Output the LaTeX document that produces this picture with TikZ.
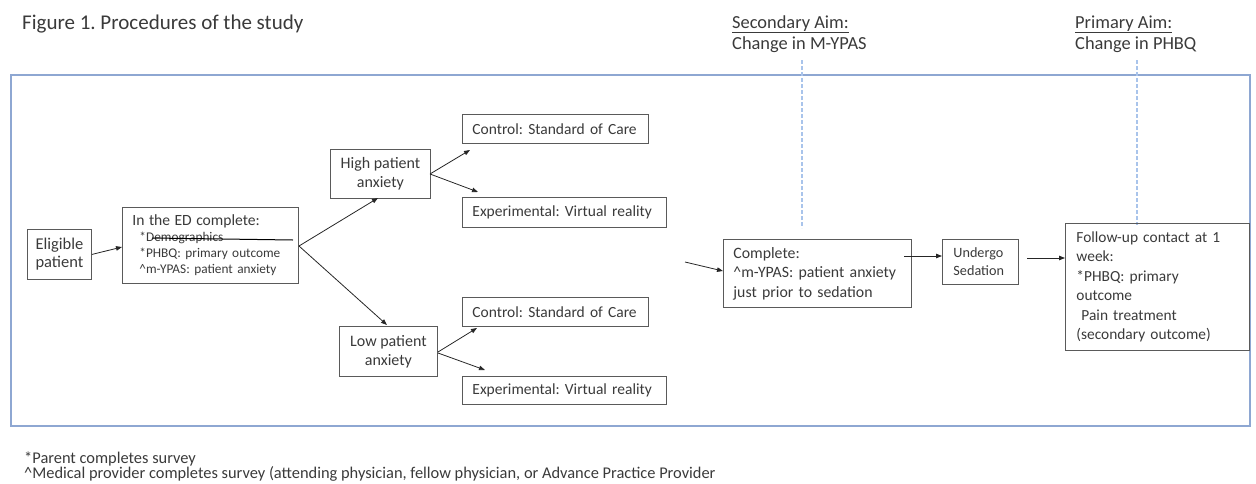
\documentclass[tikz,border=0pt]{standalone}
\usepackage{fontspec}
\setmainfont{Carlito}
\usetikzlibrary{arrows.meta}
\definecolor{framecol}{HTML}{8EA7D2}
\definecolor{dashcol}{HTML}{A9C4EB}
\definecolor{txt}{HTML}{3A3A3A}
\definecolor{boxcol}{HTML}{5A5A5A}
\frenchspacing
\begin{document}
\begin{tikzpicture}[x=1pt,y=-1pt,
  box/.style={draw=boxcol, line width=0.9pt, text=txt, inner sep=0pt, anchor=north west},
  lbox/.style={box, align=left, inner xsep=10pt},
  conn/.style={draw=black!85, line width=0.8pt, -{Triangle[length=6pt,width=4.5pt]}},
  aimline/.style={draw=dashcol, line width=1.2pt, dash pattern=on 4pt off 2pt},
  plain/.style={text=txt, inner sep=0pt, anchor=base west}]
\useasboundingbox (0,0) rectangle (1256,483);
% frame
\draw[framecol, line width=1.6pt] (11,75) rectangle (1250,426);
% title and aims
\node[plain, font=\fontsize{21}{24}\selectfont] (title) at (22,29) {Figure 1. Procedures of the study};
\node[plain, font=\fontsize{18.4}{21}\selectfont] (sec1) at (732,28) {\underline{Secondary Aim:}};
\node[plain, font=\fontsize{18.4}{21}\selectfont] (sec2) at (732,49) {Change in M-YPAS};
\node[plain, font=\fontsize{18.4}{21}\selectfont] (pri1) at (1075,28) {\underline{Primary Aim:}};
\node[plain, font=\fontsize{18.4}{21}\selectfont] (pri2) at (1075,49) {Change in PHBQ};
\coordinate (s1) at (802,60); \coordinate (s2) at (802,228);
\coordinate (p1) at (1137,60); \coordinate (p2) at (1137,225);
\draw[aimline] (s1) -- (s2);
\draw[aimline] (p1) -- (p2);
% boxes
\node[box, minimum width=64pt, minimum height=50pt, align=center, font=\fontsize{16.5}{18}\selectfont] (elig) at (27,229) {Eligible\\patient};
\node[lbox, minimum width=176pt, minimum height=76pt, text width=156pt, font=\fontsize{13.3}{16}\selectfont] (ed) at (122,207)
  {{\fontsize{15.6}{16}\selectfont In the ED complete:}\\
   \hspace*{7pt}*Demographics\\
   \hspace*{7pt}*PHBQ: primary outcome\\
   \hspace*{7pt}\textasciicircum m-YPAS: patient anxiety};
\node[box, minimum width=100pt, minimum height=49pt, align=center, font=\fontsize{16}{19}\selectfont] (high) at (330,149) {High patient\\anxiety};
\node[box, minimum width=98pt, minimum height=50pt, align=center, font=\fontsize{16}{19}\selectfont] (low) at (339,326) {Low patient\\anxiety};
\node[lbox, minimum width=186pt, minimum height=29pt, text width=166pt, font=\fontsize{15.5}{17}\selectfont] (c1) at (462,114) {Control: Standard of Care};
\node[lbox, minimum width=204pt, minimum height=30pt, text width=184pt, font=\fontsize{15.5}{17}\selectfont] (e1) at (462,197) {Experimental: Virtual reality};
\node[lbox, minimum width=186pt, minimum height=29pt, text width=166pt, font=\fontsize{15.5}{17}\selectfont] (c2) at (462,297) {Control: Standard of Care};
\node[lbox, minimum width=204pt, minimum height=28pt, text width=184pt, font=\fontsize{15.5}{17}\selectfont] (e2) at (462,376) {Experimental: Virtual reality};
\node[lbox, minimum width=188pt, minimum height=68pt, text width=168pt, font=\fontsize{15.8}{19.5}\selectfont] (comp) at (723,239)
  {Complete:\\\textasciicircum m-YPAS: patient anxiety\\just prior to sedation};
\node[lbox, inner xsep=11pt, minimum width=76pt, minimum height=45pt, text width=54pt, font=\fontsize{14.2}{18}\selectfont] (under) at (942,239) {Undergo\\Sedation};
\node[lbox, inner xsep=11pt, minimum width=184pt, minimum height=127pt, text width=162pt, font=\fontsize{15.4}{19.4}\selectfont] (follow) at (1065,223)
  {Follow-up contact at 1\\week:\\{}*PHBQ: primary\\outcome\\\hspace*{5pt}Pain treatment\\(secondary outcome)};
% connectors
\coordinate (split) at (299,246);
\coordinate (strikeA) at (152,238);
\coordinate (strikeB) at (293,240);
\coordinate (inA) at (685,262);
\coordinate (outA) at (1027,258);
\draw[conn] (elig.east) -- (ed.west |- 0,247);
\draw[draw=black, line width=1pt] (strikeA) -- (strikeB);
\draw[conn] (split) -- (378,198);
\draw[conn] (split) -- (387,325);
\draw[conn] (430,174) -- (470,150);
\draw[conn] (430,174) -- (478,192);
\draw[conn] (438,352) -- (477,328);
\draw[conn] (438,353) -- (485,370);
\draw[conn] (inA) -- (comp.west |- 0,271);
\draw[conn] (904,256) -- (under.west |- 0,256);
\draw[conn] (outA) -- (follow.west |- 0,258);
% footnotes
\node[plain, font=\fontsize{16.4}{15}\selectfont] (fn1) at (24,463) {*Parent completes survey};
\node[plain, font=\fontsize{16.4}{15}\selectfont] (fn2) at (24,478) {\textasciicircum Medical provider completes survey (attending physician, fellow physician, or Advance Practice Provider};
\end{tikzpicture}
\end{document}
